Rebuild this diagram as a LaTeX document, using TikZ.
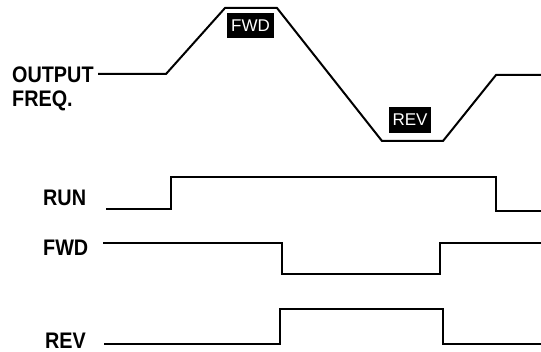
\documentclass[tikz,border=0pt]{standalone}
\usepackage{fontspec}
\setmainfont{Liberation Sans}
\usepackage{graphicx}
\newcommand{\sigtxt}[1]{\scalebox{0.88}[1]{#1}}
\tikzset{
  lbl/.style={anchor=base west, inner sep=0pt, font=\bfseries\fontsize{22.5}{22.5}\selectfont},
  wave/.style={line width=2pt, line join=miter},
  tag/.style={fill=black, text=white, inner sep=0pt, font=\fontsize{17}{17}\selectfont},
}
\begin{document}
\begin{tikzpicture}[x=1pt,y=-1pt]
\useasboundingbox (0,0) rectangle (541,352);
% labels
\node[lbl] (out) at (12,83) {\sigtxt{OUTPUT}};
\node[lbl] (freq) at (12,106.5) {\sigtxt{FREQ.}};
\node[lbl] (run) at (43,205.5) {\sigtxt{RUN}};
\node[lbl] (fwd) at (43,255.5) {\sigtxt{FWD}};
\node[lbl] (rev) at (45,348.5) {\sigtxt{REV}};
% frequency tags
\node[tag, minimum width=47pt, minimum height=25pt] (tf) at (250.5,25.5) {FWD};
\node[tag, minimum width=42pt, minimum height=26pt] (tr) at (410,120) {REV};
% output frequency
\draw[wave] (98,74) -- (166,74) -- (225,8) -- (277,8) -- (382,141) -- (443,141) -- (496,75) -- (541,75);
% RUN
\draw[wave] (106,209) -- (171,209) -- (171,177) -- (496,177) -- (496,211) -- (541,211);
% FWD
\draw[wave] (103,243) -- (282,243) -- (282,274) -- (440,274) -- (440,243) -- (541,243);
% REV
\draw[wave] (104,344) -- (280,344) -- (280,309) -- (443,309) -- (443,344) -- (541,344);
\end{tikzpicture}
\end{document}
